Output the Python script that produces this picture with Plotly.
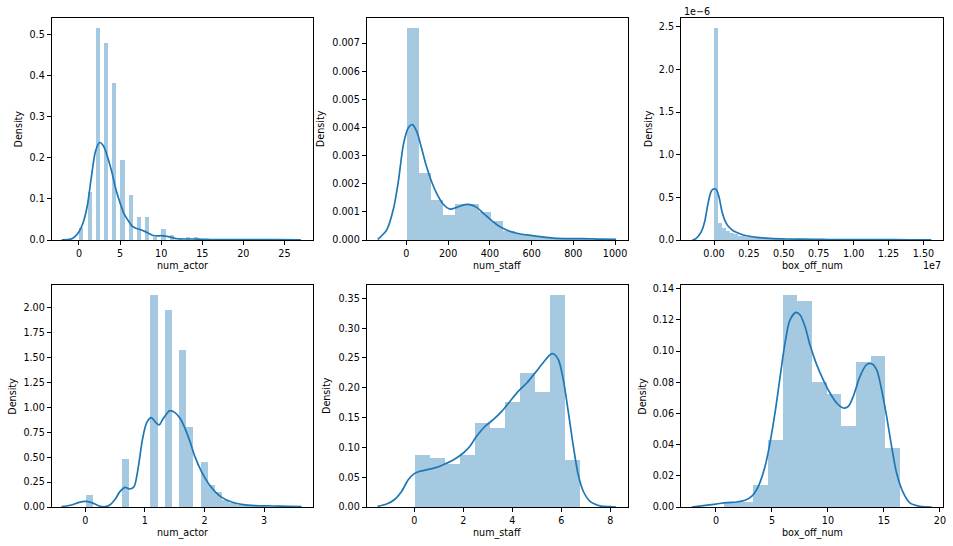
import numpy as np
import plotly.graph_objects as go

W, H = 953, 546

# ---------------- data ----------------
# Top-left: num_actor
actor_bin_start = 0.0
actor_bin_width = 0.5
actor_density = [0.028, 0, 0.117, 0, 0.515, 0, 0.478, 0, 0.381, 0, 0.194, 0, 0.109, 0,
                 0.054, 0, 0.054, 0, 0.0065, 0, 0.027, 0, 0.012, 0, 0.003, 0, 0.0065, 0,
                 0.0065, 0, 0.002, 0, 0.0015, 0, 0.001, 0, 0.001, 0, 0, 0, 0.001, 0,
                 0, 0, 0, 0, 0, 0, 0.001, 0.001]
actor_kde_x = [-2.1, -1.0, -0.5, 0.0, 0.5, 1.0, 1.5, 2.0, 2.5, 3.0, 3.5, 4.0, 4.5, 5.0, 5.5,
               6.0, 6.5, 7.0, 7.5, 8.0, 8.5, 9.0, 9.5, 10.0, 10.5, 11.0, 11.5, 12.0, 13.0,
               14.0, 15.0, 16.0, 18.0, 20.0, 22.0, 24.0, 27.0]
actor_kde_y = [0.0005, 0.002, 0.008, 0.02, 0.042, 0.082, 0.152, 0.215, 0.237, 0.228, 0.2,
               0.165, 0.122, 0.09, 0.063, 0.047, 0.033, 0.028, 0.025, 0.021, 0.016, 0.011,
               0.0098, 0.0105, 0.0095, 0.0075, 0.005, 0.003, 0.0024, 0.0024, 0.0017, 0.0012,
               0.0009, 0.0008, 0.0008, 0.0008, 0.0004]

# Top-middle: num_staff
staff_bin_start = 0.0
staff_bin_width = 57.9
staff_density = [0.00752, 0.00238, 0.00142, 0.00089, 0.00128, 0.00128, 0.00100, 0.00067,
                 0.00030, 0.00020, 0.00014, 0.00008, 0.00003, 0.00002, 0.00005]
staff_kde_x = [-137, -94, -62, -38, -14, 10, 29, 50, 73, 97, 121, 145, 177, 209, 241, 281,
               305, 337, 369, 409, 449, 489, 529, 577, 641, 704, 784, 848, 928, 1005]
staff_kde_y = [0.00002, 0.00036, 0.0011, 0.0021, 0.0034, 0.0040, 0.0041, 0.00385, 0.00326,
               0.0026, 0.00207, 0.00166, 0.00127, 0.0011, 0.00116, 0.00126, 0.00126, 0.00116,
               0.00095, 0.00069, 0.00047, 0.00033, 0.00024, 0.00018, 0.00012, 0.00007,
               0.00005, 0.00005, 0.00003, 0.00002]

# Top-right: box_off_num
box_bin_start = 0.0
box_bin_width = 281200.0
box_density = [2.48e-6, 0.20e-6, 0.143e-6, 0.097e-6, 0.078e-6, 0.066e-6, 0.047e-6, 0.039e-6,
               0.031e-6, 0.026e-6, 0.022e-6, 0.019e-6, 0.016e-6, 0.014e-6, 0.012e-6, 0.011e-6,
               0.010e-6, 0.009e-6, 0.008e-6, 0.007e-6, 0.006e-6, 0.006e-6, 0.005e-6, 0.005e-6,
               0.004e-6, 0.004e-6, 0.004e-6, 0.003e-6, 0.003e-6, 0.003e-6, 0.003e-6, 0.002e-6,
               0.002e-6, 0.002e-6, 0.002e-6, 0.002e-6, 0.002e-6, 0.001e-6, 0.001e-6, 0.001e-6,
               0.001e-6, 0.001e-6, 0.001e-6, 0.001e-6, 0.001e-6, 0.001e-6, 0.001e-6, 0.001e-6,
               0.001e-6, 0.001e-6]
box_kde_x = [-1.55e6, -1.27e6, -0.91e6, -0.67e6, -0.43e6, -0.19e6, 0.0, 0.17e6, 0.36e6,
             0.55e6, 0.77e6, 1.01e6, 1.37e6, 1.85e6, 2.33e6, 3.05e6, 4.0e6, 5.2e6, 7.1e6,
             8.3e6, 10.0e6, 12.0e6, 14.0e6, 15.57e6]
box_kde_y = [0.0, 0.019e-6, 0.097e-6, 0.213e-6, 0.426e-6, 0.574e-6, 0.60e-6, 0.589e-6,
             0.504e-6, 0.349e-6, 0.233e-6, 0.163e-6, 0.109e-6, 0.074e-6, 0.05e-6, 0.031e-6,
             0.019e-6, 0.012e-6, 0.008e-6, 0.006e-6, 0.005e-6, 0.004e-6, 0.003e-6, 0.001e-6]

# Bottom-left: log num_actor
lactor_bin_start = 0.0
lactor_bin_width = 0.1207
lactor_density = [0.121, 0, 0, 0, 0, 0.482, 0, 0, 0, 2.131, 0, 1.98, 0, 1.578, 0.804, 0,
                  0.452, 0.221, 0.151, 0.074, 0.04, 0.022, 0.02, 0.01, 0.005, 0.003, 0.003]
lactor_kde_x = [-0.4, -0.23, -0.12, 0, 0.106, 0.22, 0.33, 0.41, 0.5, 0.58, 0.666, 0.75, 0.817,
                0.89, 0.957, 1.03, 1.108, 1.17, 1.237, 1.31, 1.42, 1.505, 1.59, 1.673, 1.757,
                1.84, 1.95, 2.064, 2.177, 2.29, 2.457, 2.62, 2.85, 3.13, 3.41, 3.63]
lactor_kde_y = [0.003, 0.02, 0.044, 0.057, 0.044, 0.013, 0.003, 0.02, 0.077, 0.154, 0.198,
                0.181, 0.204, 0.405, 0.673, 0.848, 0.898, 0.858, 0.824, 0.891, 0.968, 0.948,
                0.891, 0.79, 0.657, 0.506, 0.355, 0.238, 0.154, 0.097, 0.05, 0.027, 0.013,
                0.01, 0.007, 0.003]

# Bottom-middle: log num_staff
lstaff_bin_start = 0.0
lstaff_bin_width = 0.614
lstaff_density = [0.0878, 0.0827, 0.0716, 0.0878, 0.1414, 0.133, 0.1767, 0.2253, 0.1934,
                  0.356, 0.0794]
lstaff_kde_x = [-1.5, -1.13, -0.79, -0.52, -0.24, 0, 0.23, 0.57, 0.91, 1.18, 1.59, 2.0, 2.27,
                2.54, 2.88, 3.22, 3.56, 3.9, 4.24, 4.59, 4.93, 5.27, 5.54, 5.67, 5.88, 6.08,
                6.29, 6.49, 6.69, 6.9, 7.17, 7.58, 7.99, 8.23]
lstaff_kde_y = [0.001, 0.005, 0.013, 0.026, 0.046, 0.056, 0.06, 0.063, 0.0665, 0.071, 0.079,
                0.0906, 0.102, 0.1185, 0.135, 0.1465, 0.16, 0.177, 0.194, 0.208, 0.225,
                0.2427, 0.2555, 0.257, 0.247, 0.2136, 0.158, 0.1018, 0.054, 0.026, 0.0095,
                0.002, 0.0005, 0.0]

# Bottom-right: log box_off_num
lbox_bin_start = 0.693
lbox_bin_width = 1.312
lbox_density = [0.0035, 0.0035, 0.0143, 0.0432, 0.136, 0.1323, 0.0804, 0.0727, 0.0521,
                0.0932, 0.097, 0.0378]
lbox_kde_x = [-2.17, -1.13, 0, 0.95, 1.85, 2.59, 3.18, 3.78, 4.38, 4.82, 5.27, 5.71, 6.16,
              6.61, 7.14, 7.5, 7.95, 8.39, 8.99, 9.58, 10.18, 10.77, 11.37, 11.82, 12.26,
              12.86, 13.45, 13.9, 14.35, 14.79, 15.24, 15.68, 16.13, 16.73, 17.32, 18.21, 19.26]
lbox_kde_y = [0, 0.0009, 0.0019, 0.0028, 0.0032, 0.0043, 0.0068, 0.0133, 0.026, 0.041,
              0.0603, 0.0827, 0.105, 0.12, 0.1248, 0.1233, 0.1158, 0.104, 0.0913, 0.0816,
              0.0731, 0.0667, 0.0635, 0.0645, 0.071, 0.0838, 0.0913, 0.0919, 0.088, 0.0752,
              0.0581, 0.0389, 0.0218, 0.009, 0.0026, 0.0004, 0]

x_labels = ["num_actor", "num_staff", "box_off_num", "num_actor", "num_staff", "box_off_num"]
y_label = "Density"

# ---------------- layout / styling ----------------
panels = [
    dict(start=actor_bin_start, width=actor_bin_width, dens=actor_density,
         kx=actor_kde_x, ky=actor_kde_y, xs=1.0, ys=1.0,
         xr=[-3.32, 28.47], yr=[0, 0.539], xd=5, yd=0.1, xf="d", yf=".1f"),
    dict(start=staff_bin_start, width=staff_bin_width, dens=staff_density,
         kx=staff_kde_x, ky=staff_kde_y, xs=1.0, ys=1.0,
         xr=[-190, 1062], yr=[0, 0.00788], xd=200, yd=0.001, xf="d", yf=".3f"),
    dict(start=box_bin_start, width=box_bin_width, dens=box_density,
         kx=box_kde_x, ky=box_kde_y, xs=1e7, ys=1e-6,
         xr=[-0.2364, 1.6425], yr=[0, 2.598], xd=0.25, yd=0.5, xf=".2f", yf=".1f"),
    dict(start=lactor_bin_start, width=lactor_bin_width, dens=lactor_density,
         kx=lactor_kde_x, ky=lactor_kde_y, xs=1.0, ys=1.0,
         xr=[-0.565, 3.822], yr=[0, 2.231], xd=1, yd=0.25, xf="d", yf=".2f"),
    dict(start=lstaff_bin_start, width=lstaff_bin_width, dens=lstaff_density,
         kx=lstaff_kde_x, ky=lstaff_kde_y, xs=1.0, ys=1.0,
         xr=[-1.943, 8.72], yr=[0, 0.3724], xd=2, yd=0.05, xf="d", yf=".2f"),
    dict(start=lbox_bin_start, width=lbox_bin_width, dens=lbox_density,
         kx=lbox_kde_x, ky=lbox_kde_y, xs=1.0, ys=1.0,
         xr=[-3.125, 20.3], yr=[0, 0.1424], xd=5, yd=0.02, xf="d", yf=".2f"),
]

col_px = [(51.7, 313.0), (366.7, 628.0), (681.0, 943.3)]
row_px = [(18.3, 240.0), (285.0, 507.0)]
ylab_x = [18.3, 320.0, 648.0, 11.7, 326.0, 641.7]
xlab_y = [265.5, 533.0]

FONT = "DejaVu Sans"
FS = 9.6
BAR_COLOR = "rgba(31,119,180,0.4)"
LINE_COLOR = "#1f77b4"

fig = go.Figure()
layout = dict(
    width=W, height=H,
    margin=dict(l=0, r=0, t=0, b=0, pad=0, autoexpand=False),
    paper_bgcolor="white", plot_bgcolor="white",
    showlegend=False, barmode="overlay", bargap=0,
    font=dict(family=FONT, size=FS, color="black"),
)
annotations = []

for i, p in enumerate(panels):
    r, c = divmod(i, 3)
    suffix = "" if i == 0 else str(i + 1)
    xa, ya = "x" + suffix, "y" + suffix
    dens = np.asarray(p["dens"], dtype=float)
    centers = p["start"] + p["width"] * (np.arange(len(dens)) + 0.5)
    fig.add_trace(go.Bar(
        x=centers / p["xs"], y=dens / p["ys"], width=p["width"] / p["xs"],
        marker=dict(color=BAR_COLOR, line=dict(width=0)),
        xaxis=xa, yaxis=ya, hoverinfo="skip"))
    fig.add_trace(go.Scatter(
        x=np.asarray(p["kx"], dtype=float) / p["xs"],
        y=np.asarray(p["ky"], dtype=float) / p["ys"],
        mode="lines", line=dict(color=LINE_COLOR, width=1.7, shape="spline", smoothing=0.8),
        xaxis=xa, yaxis=ya, hoverinfo="skip"))

    l, rr = col_px[c]
    t, b = row_px[r]
    axis_common = dict(showgrid=False, zeroline=False, showline=True, mirror=True,
                       linecolor="black", linewidth=1, ticks="outside", ticklen=4,
                       tickwidth=1, tickcolor="black", automargin=False,
                       tickfont=dict(family=FONT, size=FS, color="black"))
    layout["xaxis" + suffix] = dict(
        domain=[l / W, rr / W], anchor=ya, range=p["xr"], tick0=0, dtick=p["xd"],
        tickformat=p["xf"], **axis_common)
    layout["yaxis" + suffix] = dict(
        domain=[1 - b / H, 1 - t / H], anchor=xa, range=p["yr"], tick0=0, dtick=p["yd"],
        tickformat=p["yf"], **axis_common)

    annotations.append(dict(text=x_labels[i], xref="paper", yref="paper",
                            x=(l + rr) / 2 / W, y=1 - xlab_y[r] / H,
                            xanchor="center", yanchor="middle", showarrow=False,
                            font=dict(family=FONT, size=FS, color="black")))
    annotations.append(dict(text=y_label, xref="paper", yref="paper",
                            x=ylab_x[i] / W, y=1 - (t + b) / 2 / H, textangle=-90,
                            xanchor="center", yanchor="middle", showarrow=False,
                            font=dict(family=FONT, size=FS, color="black")))

# offset texts of the box_off_num panel
annotations.append(dict(text="1e\u22126", xref="paper", yref="paper", x=681.5 / W,
                        y=1 - 11.5 / H, xanchor="left", yanchor="middle", showarrow=False,
                        font=dict(family=FONT, size=FS, color="black")))
annotations.append(dict(text="1e7", xref="paper", yref="paper", x=943.3 / W,
                        y=1 - 265.0 / H, xanchor="right", yanchor="middle", showarrow=False,
                        font=dict(family=FONT, size=FS, color="black")))

layout["annotations"] = annotations
fig.update_layout(**layout)
fig.write_html("out.html", config={"displayModeBar": False},
               post_script="document.body.style.margin='0px';"
                           "document.body.style.overflow='hidden';")
